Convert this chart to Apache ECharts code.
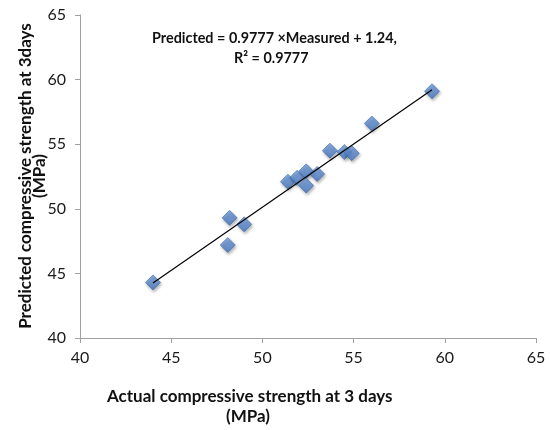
<!DOCTYPE html>
<html>
<head>
<meta charset="utf-8">
<script src="https://cdn.jsdelivr.net/npm/echarts@6/dist/echarts.min.js"></script>
<style>html,body{margin:0;padding:0;background:#fff}#c{width:550px;height:430px}</style>
</head>
<body>
<div id="c"></div>
<script>
var actual = [44.0, 48.2, 48.1, 49.0, 51.4, 51.9, 52.4, 52.4, 53.0, 53.7, 54.5, 54.9, 56.0, 59.3];
var predicted = [44.3, 49.3, 47.2, 48.8, 52.1, 52.4, 52.9, 51.8, 52.7, 54.5, 54.4, 54.3, 56.6, 59.1];
var slope = 0.9777, intercept = 1.24;
var trendX = [44.0, 59.3];
var xTicks = [40, 45, 50, 55, 60, 65];
var yTicks = [40, 45, 50, 55, 60, 65];
var FONT = 'Lato, "Open Sans", sans-serif';

var points = actual.map(function (v, i) { return [v, predicted[i]]; });
var trend = trendX.map(function (x) { return [x, slope * x + intercept]; });

var chart = echarts.init(document.getElementById('c'));
chart.setOption({
  animation: false,
  backgroundColor: '#fff',
  grid: { left: 80, right: 14, top: 15, bottom: 92, containLabel: false, outerBoundsMode: 'none' },
  xAxis: {
    type: 'value', min: xTicks[0], max: xTicks[xTicks.length - 1], interval: 5,
    splitLine: { show: false },
    axisLine: { lineStyle: { color: '#a0a0a0' } },
    axisTick: { show: true, length: 5, lineStyle: { color: '#a0a0a0' } },
    axisLabel: { color: '#1a1a1a', fontSize: 16, fontFamily: FONT, margin: 12 }
  },
  yAxis: {
    type: 'value', min: yTicks[0], max: yTicks[yTicks.length - 1], interval: 5,
    splitLine: { show: false },
    axisLine: { show: true, lineStyle: { color: '#a0a0a0' } },
    axisTick: { show: true, length: 5, lineStyle: { color: '#a0a0a0' } },
    axisLabel: { color: '#1a1a1a', fontSize: 16, fontFamily: FONT, margin: 14 }
  },
  graphic: [
    { type: 'text', x: 26, y: 176, rotation: Math.PI / 2, style: { text: 'Predicted compressive strength at 3days', font: 'bold 17px ' + FONT, fill: '#111', textAlign: 'center', textVerticalAlign: 'middle' } },
    { type: 'text', x: 40, y: 176, rotation: Math.PI / 2, style: { text: '(MPa)', font: 'bold 17px ' + FONT, fill: '#111', textAlign: 'center', textVerticalAlign: 'middle' } },
    { type: 'text', left: 107, top: 388, style: { text: 'Actual compressive strength at 3 days', font: 'bold 17px ' + FONT, fill: '#111' } },
    { type: 'text', left: 226, top: 408, style: { text: '(MPa)', font: 'bold 17px ' + FONT, fill: '#111' } },
    { type: 'text', left: 152, top: 31, style: { text: 'Predicted = 0.9777 \u00d7Measured + 1.24,', font: 'bold 14.4px ' + FONT, fill: '#111' } },
    { type: 'text', left: 234, top: 51, style: { text: 'R\u00b2 = 0.9777', font: 'bold 14.4px ' + FONT, fill: '#111' } }
  ],
  series: [
    {
      type: 'line', data: trend, symbol: 'none', silent: true,
      lineStyle: { color: '#000', width: 1.2 }, z: 3
    },
    {
      type: 'scatter', data: points, symbol: 'diamond', symbolSize: [15, 15], z: 2,
      itemStyle: {
        color: new echarts.graphic.LinearGradient(0, 0, 0, 1, [
          { offset: 0, color: '#739FDF' }, { offset: 1, color: '#4274BE' }
        ]),
        borderColor: '#3A69AC', borderWidth: 0.8,
        shadowColor: 'rgba(0,0,0,0.35)', shadowBlur: 3, shadowOffsetX: 1, shadowOffsetY: 2
      }
    }
  ]
});
</script>
</body>
</html>
